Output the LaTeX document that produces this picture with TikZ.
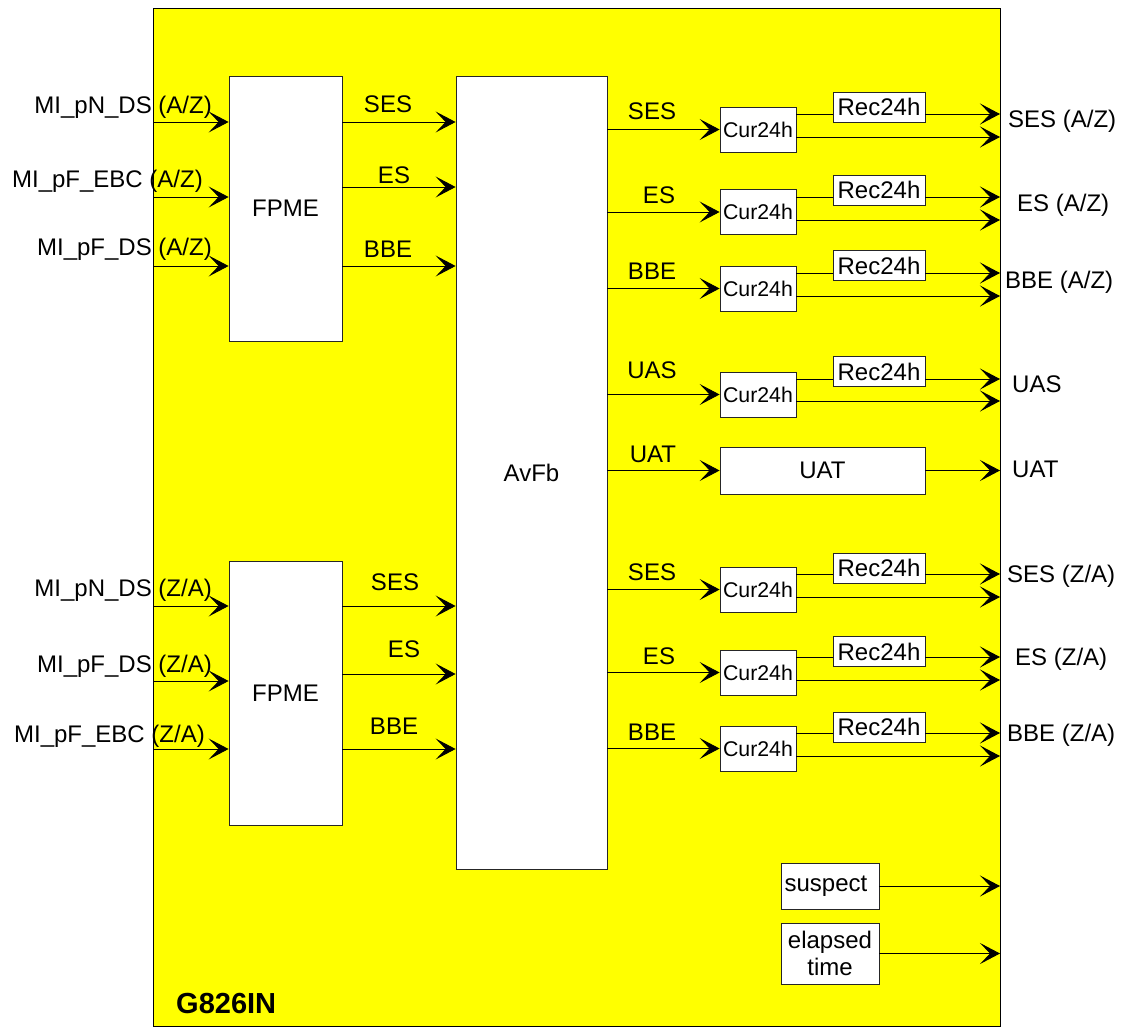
\documentclass[tikz,border=0pt]{standalone}
\usepackage{fontspec}
\setmainfont{Liberation Sans}
\usetikzlibrary{arrows.meta}
\definecolor{blockyellow}{RGB}{255,255,0}
\begin{document}
\begin{tikzpicture}[x=1pt,y=-1pt,
  box/.style={draw=black!85, fill=white, line width=0.8pt, inner sep=0pt, font=\fontsize{24}{27}\selectfont},
  curbox/.style={box, minimum width=76pt, minimum height=45pt, font=\fontsize{21.3}{24}\selectfont},
  recbox/.style={box, minimum width=92pt, minimum height=30pt},
  arr/.style={line width=0.9pt, -{Stealth[length=20pt,width=21pt,inset=10pt]}},
  ln/.style={line width=0.9pt},
  lbl/.style={inner sep=0pt, font=\fontsize{24}{27}\selectfont},
]
\useasboundingbox (0,0) rectangle (1122,1026);
% outer block
\node[draw=black, fill=blockyellow, line width=0.8pt, minimum width=847pt, minimum height=1018pt, inner sep=0pt, anchor=north west] (g826) at (153,8) {};
\node[lbl, font=\fontsize{29}{32}\selectfont\bfseries, anchor=base west] (title) at (176,1013) {G826IN};

% main blocks
\node[box, minimum width=113pt, minimum height=265pt] (fpmeA) at (285.5,208.5) {FPME};
\node[box, minimum width=113pt, minimum height=264pt] (fpmeB) at (285.5,693) {FPME};
\node[box, minimum width=151pt, minimum height=793pt] (avfb) at (531.5,472.5) {AvFb};

% inputs
\foreach \i/\y/\xr/\b/\t in {
  A1/122/212/113/{MI\_pN\_DS (A/Z)},
  A2/197/203/187/{MI\_pF\_EBC (A/Z)},
  A3/266/212/255/{MI\_pF\_DS (A/Z)}}{
  \coordinate (in\i) at (153,\y);
  \draw[arr] (in\i) -- (in\i -| fpmeA.west);
  \node[lbl, anchor=base east] (lin\i) at (\xr,\b) {\t};
}
\foreach \i/\y/\xr/\b/\t in {
  B1/606/212/596/{MI\_pN\_DS (Z/A)},
  B2/681/212/672/{MI\_pF\_DS (Z/A)},
  B3/749/205/742/{MI\_pF\_EBC (Z/A)}}{
  \coordinate (in\i) at (153,\y);
  \draw[arr] (in\i) -- (in\i -| fpmeB.west);
  \node[lbl, anchor=base east] (lin\i) at (\xr,\b) {\t};
}

% FPME -> AvFb
\foreach \i/\y/\lx/\lb/\t in {A1/122/388/112/SES, A2/187/394/183/ES, A3/266/388/257/BBE}{
  \coordinate (y\i) at (0,\y);
  \draw[arr] (fpmeA.east |- y\i) -- (avfb.west |- y\i);
  \node[lbl, anchor=base] (f\i) at (\lx,\lb) {\t};
}
\foreach \i/\y/\lx/\lb/\t in {B1/606/395/590/SES, B2/674/404/657/ES, B3/749/394/734/BBE}{
  \coordinate (y\i) at (0,\y);
  \draw[arr] (fpmeB.east |- y\i) -- (avfb.west |- y\i);
  \node[lbl, anchor=base] (f\i) at (\lx,\lb) {\t};
}

% Cur24h / Rec24h rows
\foreach \r/\cc/\up/\lo/\rc/\s/\lx/\lb/\o/\ox/\ob in {
  1/129.5/114/137/107/SES/652/119/{SES (A/Z)}/1008/127,
  2/212/197/220/190/ES/659/203/{ES (A/Z)}/1017/211,
  3/288.5/273/296/265.5/BBE/652/279/{BBE (A/Z)}/1005/288,
  4/394.5/379/401/371.5/UAS/652/378/UAS/1012/392,
  6/589.5/574/597/568/SES/652/580/{SES (Z/A)}/1007/582,
  7/672.5/657/680/651.5/ES/659/664/{ES (Z/A)}/1015/665,
  8/748.5/733/756/727/BBE/652/740/{BBE (Z/A)}/1007/741}{
  \node[curbox] (cur\r) at (758,\cc) {Cur24h};
  \node[recbox] (rec\r) at (879,\rc) {Rec24h};
  \coordinate (up\r) at (1000,\up);
  \coordinate (lo\r) at (1000,\lo);
  \draw[arr] (avfb.east |- cur\r.west) -- (cur\r.west);
  \draw[ln] (cur\r.east |- up\r) -- (rec\r.west |- up\r);
  \draw[arr] (rec\r.east |- up\r) -- (up\r);
  \draw[arr] (cur\r.east |- lo\r) -- (lo\r);
  \node[lbl, anchor=base] (sig\r) at (\lx,\lb) {\s};
  \node[lbl, anchor=base west] (out\r) at (\ox,\ob) {\o};
}

% UAT row
\node[box, minimum width=205pt, minimum height=47pt] (uat) at (822.5,470.5) {UAT};
\coordinate (uatout) at (1000,470.5);
\draw[arr] (avfb.east |- uat.west) -- (uat.west);
\draw[arr] (uat.east) -- (uatout);
\node[lbl, anchor=base] (sig5) at (653,462) {UAT};
\node[lbl, anchor=base west] (out5) at (1012,477) {UAT};

% suspect / elapsed time
\node[box, minimum width=98pt, minimum height=46pt] (susp) at (830,886) {suspect\hspace*{8pt}};
\node[box, minimum width=98pt, minimum height=61pt, align=center] (elap) at (830,953.5) {elapsed\\time};
\coordinate (suspout) at (1000,886);
\coordinate (elapout) at (1000,953.5);
\draw[arr] (susp.east) -- (suspout);
\draw[arr] (elap.east) -- (elapout);
\end{tikzpicture}
\end{document}
